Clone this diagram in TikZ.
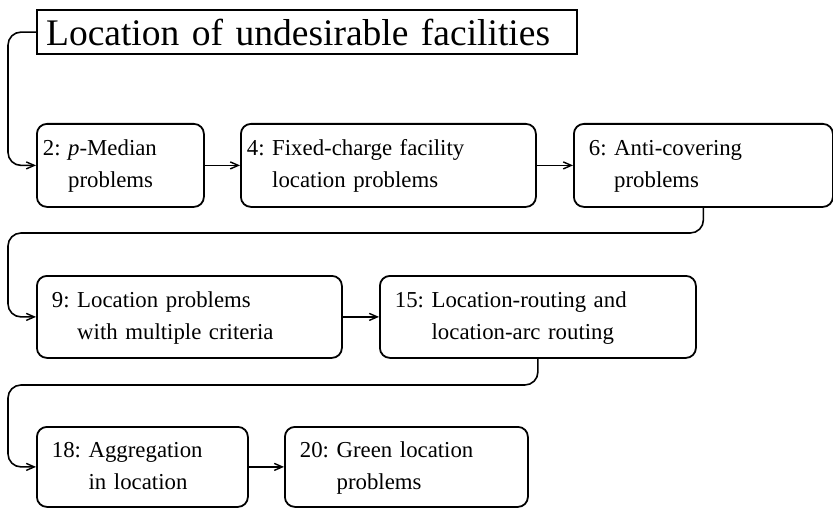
\documentclass[tikz,border=0pt]{standalone}
\usepackage{fontspec}
\setmainfont{Liberation Serif}
\usetikzlibrary{arrows.meta}
% chapter number followed by its title, later lines hanging under the title
\newcommand\chaplabel[2]{#1~\begin{tabular}[t]{@{}l@{}}#2\end{tabular}}
\begin{document}
\begin{tikzpicture}[x=1pt,y=-1pt,
  titlebox/.style={draw, line width=2.2pt, anchor=north west, inner xsep=9pt,
    inner ysep=0pt, minimum height=44pt, text width=522pt, align=left,
    font=\fontsize{37.5}{44}\selectfont},
  chapbox/.style={draw, rounded corners=10pt, line width=1.8pt, anchor=north west,
    inner xsep=15pt, inner ysep=0pt, align=left,
    font=\fontsize{22.8}{32}\selectfont},
  tightbox/.style={chapbox, inner xsep=6pt},
  conn/.style={line width=1.6pt, rounded corners=13pt,
    -{Straight Barb[length=8pt,width=7pt,line width=1.4pt]}},
  link/.style={line width=1.6pt, -{Straight Barb[length=8pt,width=7pt,line width=1.4pt]}}]
\useasboundingbox (0,0) rectangle (833,508);

\node[titlebox] (title) at (36,9) {Location of undesirable facilities};

% first row
\node[tightbox, text width=155pt, minimum height=83pt] (c2) at (36,123)
  {\chaplabel{2:}{\textit{p}-Median\\problems}};
\node[tightbox, text width=283pt, minimum height=83pt] (c4) at (240,123)
  {\chaplabel{4:}{Fixed-charge facility\\location problems}};
\node[chapbox, text width=229pt, minimum height=83pt] (c6) at (573,123)
  {\chaplabel{6:}{Anti-covering\\problems}};

% second row
\node[chapbox, text width=275pt, minimum height=82pt] (c9) at (36,275)
  {\chaplabel{9:}{Location problems\\with multiple criteria}};
\node[chapbox, text width=286pt, minimum height=82pt] (c15) at (379,275)
  {\chaplabel{15:}{Location-routing and\\location-arc routing}};

% third row
\node[chapbox, text width=181pt, minimum height=80pt] (c18) at (36,426)
  {\chaplabel{18:}{Aggregation\\in location}};
\node[chapbox, text width=213pt, minimum height=80pt] (c20) at (284,426)
  {\chaplabel{20:}{Green location\\problems}};

% routing lanes
\coordinate (lane) at (8,0);
\coordinate (gapA) at (0,233);
\coordinate (gapB) at (0,385);

\draw[conn] (title.west) -- (title.west -| lane) |- (c2.west);
\draw[link] (c2.east) -- (c4.west);
\draw[link] (c4.east) -- (c6.west);
\draw[conn] (c6.south) -- (c6.south |- gapA) -- (gapA -| lane) |- (c9.west);
\draw[link] (c9.east) -- (c15.west);
\draw[conn] (c15.south) -- (c15.south |- gapB) -- (gapB -| lane) |- (c18.west);
\draw[link] (c18.east) -- (c20.west);
\end{tikzpicture}
\end{document}
